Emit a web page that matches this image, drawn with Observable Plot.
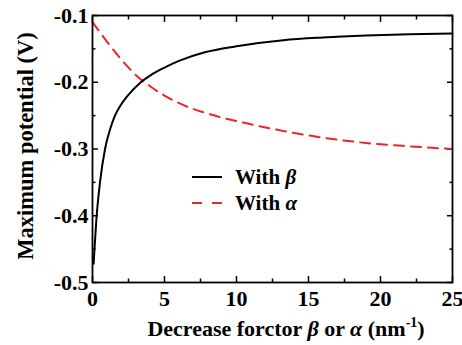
<!DOCTYPE html>
<html>
<head>
<meta charset="utf-8">
<script src="https://cdn.jsdelivr.net/npm/d3@7"></script>
<script src="https://cdn.jsdelivr.net/npm/@observablehq/plot@0.6"></script>
<style>
  html, body { margin: 0; padding: 0; background: #fff; }
</style>
</head>
<body>
<div id="chart"></div>
<script>
// Data
const betaX = [0.08, 0.29, 0.52, 0.87, 1.2, 1.56, 2.0, 2.49, 3.3, 4, 5, 6, 7.8, 10, 13.25, 16, 19, 22, 25];
const betaY = [-0.472, -0.40, -0.35, -0.30, -0.272, -0.25, -0.233, -0.219, -0.201, -0.190, -0.178, -0.168, -0.155, -0.146, -0.137, -0.133, -0.130, -0.128, -0.127];
const alphaX = [0, 1, 2, 3, 4, 5, 6.5, 8, 11, 13.25, 16, 19, 22, 25];
const alphaY = [-0.110, -0.139, -0.166, -0.189, -0.206, -0.220, -0.236, -0.247, -0.263, -0.273, -0.283, -0.291, -0.296, -0.300];
const xMajor = [0, 5, 10, 15, 20, 25];
const xMinor = [2.5, 7.5, 12.5, 17.5, 22.5];
const yMajor = [-0.5, -0.4, -0.3, -0.2, -0.1];
const yMinor = [-0.45, -0.35, -0.25, -0.15];
const seriesNames = ["With β", "With α"];

const beta = betaX.map((x, i) => ({x, y: betaY[i]}));
const alpha = alphaX.map((x, i) => ({x, y: alphaY[i]}));

const red = "#e8262b";
const font = "'Liberation Serif', 'Times New Roman', serif";
const fs = 22;

const inTicks = (anchorX, anchorY) => [
  Plot.axisX(xMajor, {anchor: anchorX, tickSize: -6, tickFormat: () => "", label: null, strokeWidth: 1.5}),
  Plot.axisX(xMinor, {anchor: anchorX, tickSize: -3.5, tickFormat: () => "", label: null, strokeWidth: 1.5}),
  Plot.axisY(yMajor, {anchor: anchorY, tickSize: -6, tickFormat: () => "", label: null, strokeWidth: 1.5}),
  Plot.axisY(yMinor, {anchor: anchorY, tickSize: -3.5, tickFormat: () => "", label: null, strokeWidth: 1.5})
];

const chart = Plot.plot({
  width: 462,
  height: 345,
  marginLeft: 92,
  marginRight: 10,
  marginTop: 15,
  marginBottom: 63,
  x: {domain: [0, 25]},
  y: {domain: [-0.5, -0.1]},
  style: {fontFamily: font, fontSize: fs + "px", fontWeight: "bold", color: "#000", background: "#fff"},
  marks: [
    ...inTicks("bottom", "left"),
    ...inTicks("top", "right"),
    Plot.axisX(xMajor, {anchor: "bottom", tickSize: 0, tickPadding: 8, tickFormat: d => String(d), label: null, fontSize: fs}),
    Plot.axisY(yMajor, {anchor: "left", tickSize: 0, tickPadding: 4, tickFormat: d => d.toFixed(1), label: null, fontSize: fs}),
    Plot.line(alpha, {x: "x", y: "y", stroke: red, strokeWidth: 2, strokeDasharray: "10,7", curve: "monotone-x"}),
    Plot.line(beta, {x: "x", y: "y", stroke: "#000", strokeWidth: 2, curve: "monotone-x"}),
    Plot.frame({stroke: "#000", strokeWidth: 1.8})
  ]
});

document.getElementById("chart").appendChild(chart);

const svg = d3.select(chart);
// Y axis title
svg.append("text")
  .attr("transform", "translate(33,146) rotate(-90)")
  .attr("text-anchor", "middle")
  .style("font-family", font).style("font-weight", "bold").style("font-size", "22.5px")
  .attr("fill", "#000")
  .text("Maximum potential (V)");

// X axis title
const xt = svg.append("text")
  .attr("x", 286).attr("y", 336)
  .attr("text-anchor", "middle")
  .style("font-family", font).style("font-weight", "bold").style("font-size", "22px")
  .attr("fill", "#000");
xt.append("tspan").text("Decrease forctor ");
xt.append("tspan").style("font-style", "italic").text("β");
xt.append("tspan").text(" or ");
xt.append("tspan").style("font-style", "italic").text("α");
xt.append("tspan").text(" (nm");
xt.append("tspan").attr("dy", -9).style("font-size", "14px").text("-1");
xt.append("tspan").attr("dy", 9).text(")");

// Legend
const leg = svg.append("g");
leg.append("line").attr("x1", 192).attr("x2", 222).attr("y1", 177).attr("y2", 177)
  .attr("stroke", "#000").attr("stroke-width", 2);
leg.append("line").attr("x1", 192).attr("x2", 222).attr("y1", 203).attr("y2", 203)
  .attr("stroke", red).attr("stroke-width", 2).attr("stroke-dasharray", "10,10");
seriesNames.forEach((name, i) => {
  const t = leg.append("text").attr("x", 235).attr("y", 184 + i * 26)
    .attr("text-anchor", "start")
    .style("font-family", font).style("font-weight", "bold").style("font-size", "21px")
    .attr("fill", "#000");
  const parts = name.split(" ");
  t.append("tspan").text(parts[0] + " ");
  t.append("tspan").style("font-style", "italic").text(parts[1]);
});
</script>
</body>
</html>
